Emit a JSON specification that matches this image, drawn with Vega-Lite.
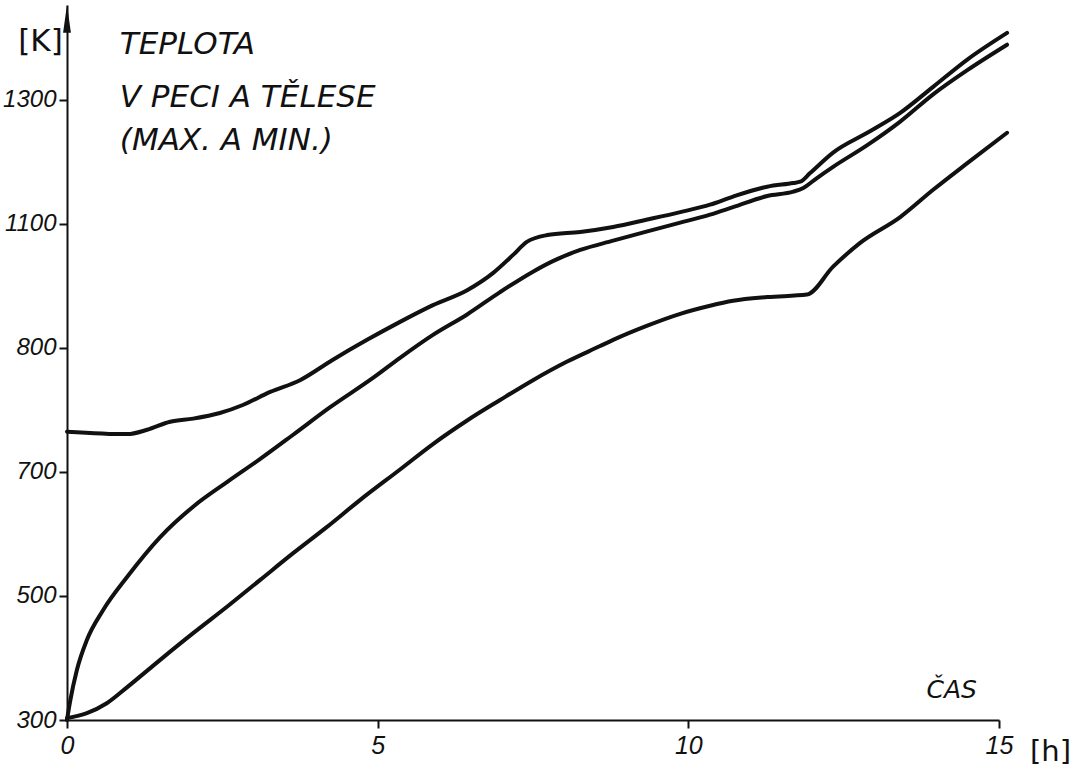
{
  "$schema": "https://vega.github.io/schema/vega-lite/v6.json",
  "width": 932,
  "height": 715,
  "autosize": {"type": "none"},
  "padding": {"left": 67, "top": 5, "right": 91, "bottom": 55},
  "background": "white",
  "config": {"view": {"stroke": null}},
  "datasets": {
    "curves": [
      {"series": "pec max", "t": 0.00, "T": 765},
      {"series": "pec max", "t": 0.97, "T": 761},
      {"series": "pec max", "t": 1.29, "T": 768},
      {"series": "pec max", "t": 1.66, "T": 781},
      {"series": "pec max", "t": 2.03, "T": 786},
      {"series": "pec max", "t": 2.46, "T": 795},
      {"series": "pec max", "t": 2.83, "T": 808},
      {"series": "pec max", "t": 3.27, "T": 829},
      {"series": "pec max", "t": 3.75, "T": 848},
      {"series": "pec max", "t": 4.28, "T": 881},
      {"series": "pec max", "t": 4.83, "T": 913},
      {"series": "pec max", "t": 5.36, "T": 942},
      {"series": "pec max", "t": 5.89, "T": 969},
      {"series": "pec max", "t": 6.44, "T": 993},
      {"series": "pec max", "t": 6.86, "T": 1021},
      {"series": "pec max", "t": 7.18, "T": 1050},
      {"series": "pec max", "t": 7.40, "T": 1071},
      {"series": "pec max", "t": 7.73, "T": 1082},
      {"series": "pec max", "t": 8.26, "T": 1087},
      {"series": "pec max", "t": 8.79, "T": 1095},
      {"series": "pec max", "t": 9.34, "T": 1107},
      {"series": "pec max", "t": 9.87, "T": 1119},
      {"series": "pec max", "t": 10.35, "T": 1131},
      {"series": "pec max", "t": 10.72, "T": 1144},
      {"series": "pec max", "t": 11.27, "T": 1160},
      {"series": "pec max", "t": 11.69, "T": 1166},
      {"series": "pec max", "t": 11.80, "T": 1168},
      {"series": "pec max", "t": 11.96, "T": 1182},
      {"series": "pec max", "t": 12.33, "T": 1215},
      {"series": "pec max", "t": 12.88, "T": 1247},
      {"series": "pec max", "t": 13.41, "T": 1279},
      {"series": "pec max", "t": 13.94, "T": 1321},
      {"series": "pec max", "t": 14.49, "T": 1365},
      {"series": "pec max", "t": 15.13, "T": 1408},
      {"series": "teleso max", "t": 0.00, "T": 300},
      {"series": "teleso max", "t": 0.05, "T": 330},
      {"series": "teleso max", "t": 0.16, "T": 381},
      {"series": "teleso max", "t": 0.32, "T": 429},
      {"series": "teleso max", "t": 0.58, "T": 477},
      {"series": "teleso max", "t": 0.97, "T": 531},
      {"series": "teleso max", "t": 1.50, "T": 595},
      {"series": "teleso max", "t": 2.03, "T": 644},
      {"series": "teleso max", "t": 2.58, "T": 684},
      {"series": "teleso max", "t": 3.11, "T": 721},
      {"series": "teleso max", "t": 3.64, "T": 760},
      {"series": "teleso max", "t": 4.23, "T": 804},
      {"series": "teleso max", "t": 4.93, "T": 852},
      {"series": "teleso max", "t": 5.36, "T": 884},
      {"series": "teleso max", "t": 5.89, "T": 921},
      {"series": "teleso max", "t": 6.44, "T": 954},
      {"series": "teleso max", "t": 6.97, "T": 990},
      {"series": "teleso max", "t": 7.50, "T": 1023},
      {"series": "teleso max", "t": 7.82, "T": 1040},
      {"series": "teleso max", "t": 8.26, "T": 1058},
      {"series": "teleso max", "t": 8.79, "T": 1073},
      {"series": "teleso max", "t": 9.34, "T": 1088},
      {"series": "teleso max", "t": 9.87, "T": 1102},
      {"series": "teleso max", "t": 10.35, "T": 1115},
      {"series": "teleso max", "t": 10.72, "T": 1127},
      {"series": "teleso max", "t": 11.27, "T": 1145},
      {"series": "teleso max", "t": 11.69, "T": 1152},
      {"series": "teleso max", "t": 11.85, "T": 1158},
      {"series": "teleso max", "t": 12.07, "T": 1174},
      {"series": "teleso max", "t": 12.33, "T": 1192},
      {"series": "teleso max", "t": 12.88, "T": 1227},
      {"series": "teleso max", "t": 13.41, "T": 1265},
      {"series": "teleso max", "t": 13.94, "T": 1309},
      {"series": "teleso max", "t": 14.49, "T": 1348},
      {"series": "teleso max", "t": 15.13, "T": 1389},
      {"series": "teleso min", "t": 0.00, "T": 303},
      {"series": "teleso min", "t": 0.32, "T": 311},
      {"series": "teleso min", "t": 0.64, "T": 327},
      {"series": "teleso min", "t": 0.97, "T": 353},
      {"series": "teleso min", "t": 1.50, "T": 397},
      {"series": "teleso min", "t": 2.03, "T": 440},
      {"series": "teleso min", "t": 2.58, "T": 483},
      {"series": "teleso min", "t": 3.11, "T": 526},
      {"series": "teleso min", "t": 3.64, "T": 569},
      {"series": "teleso min", "t": 4.18, "T": 611},
      {"series": "teleso min", "t": 4.72, "T": 655},
      {"series": "teleso min", "t": 5.36, "T": 704},
      {"series": "teleso min", "t": 5.89, "T": 745},
      {"series": "teleso min", "t": 6.44, "T": 783},
      {"series": "teleso min", "t": 6.97, "T": 816},
      {"series": "teleso min", "t": 7.50, "T": 848},
      {"series": "teleso min", "t": 8.05, "T": 878},
      {"series": "teleso min", "t": 8.58, "T": 903},
      {"series": "teleso min", "t": 8.79, "T": 913},
      {"series": "teleso min", "t": 9.34, "T": 936},
      {"series": "teleso min", "t": 9.87, "T": 955},
      {"series": "teleso min", "t": 10.35, "T": 968},
      {"series": "teleso min", "t": 10.72, "T": 976},
      {"series": "teleso min", "t": 11.27, "T": 982},
      {"series": "teleso min", "t": 11.91, "T": 986},
      {"series": "teleso min", "t": 12.33, "T": 1031},
      {"series": "teleso min", "t": 12.76, "T": 1069},
      {"series": "teleso min", "t": 13.41, "T": 1111},
      {"series": "teleso min", "t": 13.94, "T": 1155},
      {"series": "teleso min", "t": 14.49, "T": 1198},
      {"series": "teleso min", "t": 15.13, "T": 1247}
    ],
    "title": [
      {"t": 0.85, "T": 1389, "text": "TEPLOTA"},
      {"t": 0.85, "T": 1303, "text": "V  PECI  A  TĚLESE"},
      {"t": 0.85, "T": 1233, "text": "(MAX.  A  MIN.)"}
    ],
    "caption": [
      {"t": 14.24, "T": 348, "text": "ČAS"}
    ],
    "arrow": [
      {"t": 0, "T": 1431}
    ]
  },
  "layer": [
    {
      "data": {"name": "curves"},
      "mark": {"type": "line", "strokeWidth": 4, "interpolate": "monotone", "clip": false, "strokeCap": "round"},
      "encoding": {
        "x": {
          "field": "t", "type": "quantitative",
          "scale": {"domain": [0, 15], "nice": false, "zero": false},
          "axis": {
            "values": [0, 5, 10, 15],
            "format": "d",
            "grid": false,
            "labelFlush": false,
            "domainColor": "#111", "domainWidth": 2,
            "tickColor": "#111", "tickWidth": 2, "tickSize": 8,
            "labelFont": "Liberation Sans", "labelFontStyle": "italic", "labelFontSize": 25,
            "labelColor": "#111", "labelPadding": 5,
            "title": "[h]", "titleFont": "DejaVu Sans", "titleFontSize": 29, "titleFontWeight": "normal",
            "titleColor": "#111", "titleAngle": 0, "titleX": 983, "titleY": 31,
            "titleAlign": "center", "titleBaseline": "middle"
          }
        },
        "y": {
          "field": "T", "type": "quantitative",
          "scale": {"domain": [300, 1453], "nice": false, "zero": false},
          "axis": {
            "values": [300, 500, 700, 900, 1100, 1300],
            "labelExpr": "datum.value == 900 ? '800' : datum.label",
            "format": "d",
            "grid": false,
            "labelFlush": false,
            "domainColor": "#111", "domainWidth": 2,
            "tickColor": "#111", "tickWidth": 2, "tickSize": 8,
            "labelFont": "Liberation Sans", "labelFontStyle": "italic", "labelFontSize": 24,
            "labelColor": "#111", "labelPadding": 3,
            "title": "[K]", "titleFont": "DejaVu Sans", "titleFontSize": 31, "titleFontWeight": "normal",
            "titleColor": "#111", "titleAngle": 0, "titleX": -27, "titleY": 36,
            "titleAlign": "center", "titleBaseline": "middle"
          }
        },
        "detail": {"field": "series", "type": "nominal"},
        "color": {"value": "#111"}
      }
    },
    {
      "data": {"name": "arrow"},
      "mark": {"type": "point", "shape": "M0,-1L0.28,1L-0.28,1Z", "filled": true, "size": 784, "color": "#111", "opacity": 1, "clip": false},
      "encoding": {
        "x": {"field": "t", "type": "quantitative"},
        "y": {"field": "T", "type": "quantitative"}
      }
    },
    {
      "data": {"name": "title"},
      "mark": {"type": "text", "align": "left", "baseline": "middle", "font": "DejaVu Sans", "fontStyle": "italic", "fontSize": 31, "color": "#111"},
      "encoding": {
        "x": {"field": "t", "type": "quantitative"},
        "y": {"field": "T", "type": "quantitative"},
        "text": {"field": "text", "type": "nominal"}
      }
    },
    {
      "data": {"name": "caption"},
      "mark": {"type": "text", "align": "center", "baseline": "middle", "font": "DejaVu Sans", "fontStyle": "italic", "fontSize": 25, "color": "#111"},
      "encoding": {
        "x": {"field": "t", "type": "quantitative"},
        "y": {"field": "T", "type": "quantitative"},
        "text": {"field": "text", "type": "nominal"}
      }
    }
  ]
}
